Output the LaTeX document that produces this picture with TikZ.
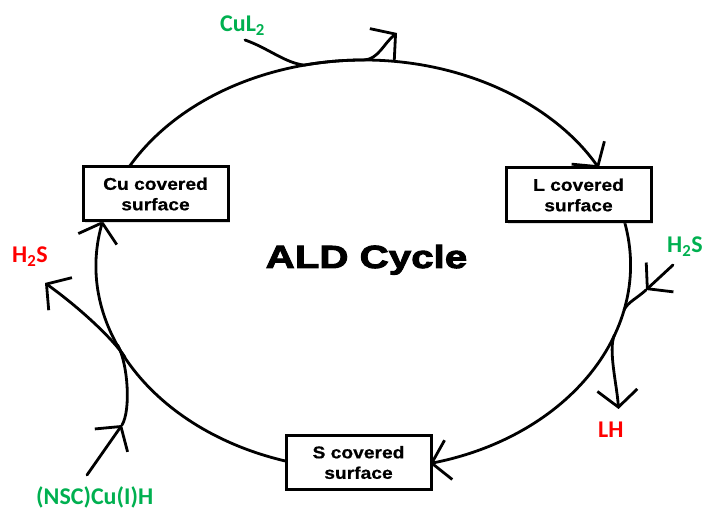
\documentclass[tikz,border=0pt]{standalone}
\usepackage{fontspec}
\setmainfont{Liberation Sans}
\newfontfamily\boxfont[FakeStretch=1.13,FakeBold=0.6]{Liberation Sans}
\newfontfamily\aldfont[FakeStretch=1.26,FakeBold=3]{Liberation Sans}
\newfontfamily\labfont{Carlito}
\usetikzlibrary{arrows.meta,shadows}
\definecolor{rgreen}{RGB}{0,176,80}
\definecolor{rred}{RGB}{255,0,0}
\begin{document}
\begin{tikzpicture}[x=1pt,y=1pt,
  box/.style={draw=black, line width=3pt, fill=white, minimum width=145pt,
    minimum height=54pt, inner sep=0pt, align=center,
    font=\boxfont\bfseries\fontsize{17}{20.5}\selectfont,
    drop shadow={opacity=0.25, shadow xshift=2pt, shadow yshift=-2pt}},
  cyc/.style={line width=2.8pt, draw=black, line cap=round},
  barbend/.style={-{Straight Barb[length=17pt,width=40pt]}},
  lab/.style={font=\labfont\bfseries\fontsize{24}{28}\selectfont, inner sep=0pt, anchor=base west},
  ell/.style={x radius=267pt, y radius=205pt}
  ]
\useasboundingbox (0,0) rectangle (705,510);

% points on the cycle ellipse (centre 363.5,245)
\coordinate (cuT) at (129.1,343.1);
\coordinate (lT)  at (598.8,341.9);
\coordinate (lB)  at (624.6,288.0);
\coordinate (sR)  at (429.9,46.4);
\coordinate (sL)  at (287.0,48.6);
\coordinate (cuB) at (102.7,289.0);
\coordinate (cM)  at (304.3,444.9);
\coordinate (hM)  at (624.0,200.0);
\coordinate (lhB) at (614.4,174.9);
\coordinate (hL)  at (124.9,152.9);
\coordinate (nM)  at (117.7,164.9);
% free ends
\coordinate (cS)  at (245,470);
\coordinate (cE)  at (397,477);
\coordinate (hS)  at (673,245);
\coordinate (hA)  at (646,220);
\coordinate (lhE) at (618.5,101);
\coordinate (hE)  at (45,227);
\coordinate (nS)  at (87,35);
\coordinate (nA)  at (122,85);

% cycle connectors
\draw[cyc,barbend] (cuT) arc[start angle=151.4, end angle=28.2, ell];
\draw[cyc,barbend] (lB) arc[start angle=12.1, end angle=-75.6, ell];
\draw[cyc,barbend] (sL) arc[start angle=253.35, end angle=167.6, ell];

% CuL2 in / out
\draw[cyc,barbend] (cS) .. controls (268,462) and (285,447) .. (cM)
   arc[start angle=102.8, end angle=90, ell]
   .. controls (378,450) and (384,467) .. (cE);

% right side: H2S in, LH out
\draw[cyc,barbend] (hS) -- (hA);
\draw[cyc] (hA) .. controls (636,211) and (628,208) .. (hM);
\draw[cyc,barbend] (lhB) .. controls (608,160) and (617,125) .. (lhE);

% left side: (NSC)Cu(I)H in, H2S out
\draw[cyc,barbend] (nS) -- (nA);
\draw[cyc] (nA) .. controls (131,100) and (128,146) .. (nM);
\draw[cyc,barbend] (hL) .. controls (113,171) and (80,202) .. (hE);

% boxes
\node[box] (cu) at (155.5,316) {Cu covered\\surface};
\node[box] (l)  at (578.5,315) {L covered\\surface};
\node[box] (s)  at (358.5,47.5) {S covered\\surface};

% title
\node[font=\aldfont\bfseries\fontsize{32}{36}\selectfont, anchor=base, inner sep=0pt] (ald) at (366.5,242) {ALD Cycle};

% labels
\node[lab, text=rgreen] (cul2) at (220,478) {CuL\textsubscript{2}};
\node[lab, text=rgreen] (h2sr) at (667,257) {H\textsubscript{2}S};
\node[lab, text=rred]   (lh)   at (598,72)  {LH};
\node[lab, text=rred]   (h2sl) at (12,247)  {H\textsubscript{2}S};
\node[lab, text=rgreen] (nsc)  at (36,5)    {(NSC)Cu(I)H};
\end{tikzpicture}
\end{document}
